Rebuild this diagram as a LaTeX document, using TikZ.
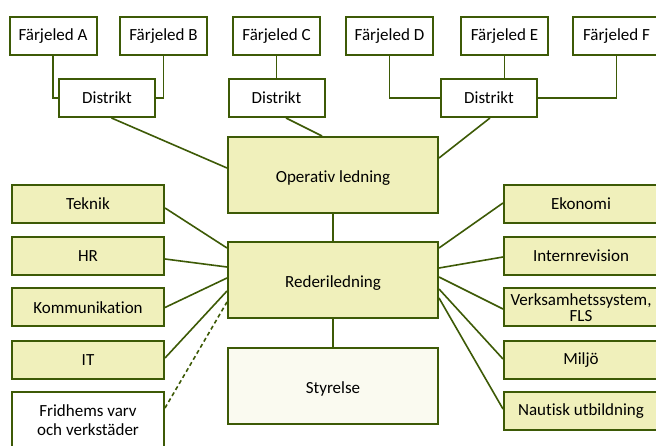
\documentclass[tikz,border=0pt]{standalone}
\usepackage{fontspec}
\setmainfont[Ligatures=NoCommon]{Carlito}
\usepackage{xcolor}
\usepackage{tikz}
\usetikzlibrary{calc}
\definecolor{orgline}{HTML}{3D5A06}
\definecolor{orgfill}{HTML}{F0F0BB}
\definecolor{orgpale}{HTML}{FAFAF0}
\tikzset{
  unitbox/.style={draw=orgline,line width=2pt,inner sep=0pt,align=center,
    font=\fontsize{17}{19.5}\selectfont},
  leafbox/.style={unitbox,fill=white,minimum width=87pt,minimum height=38pt},
  distbox/.style={unitbox,fill=white,minimum width=96pt,minimum height=38pt},
  mainbox/.style={unitbox,fill=orgfill,minimum width=210pt,minimum height=76pt,
    text height=15pt,text depth=0pt},
  sidebox/.style={unitbox,fill=orgfill,minimum width=152pt,minimum height=38pt},
  link/.style={draw=orgline,line width=1.6pt}
}

\begin{document}
\begin{tikzpicture}[x=1pt,y=-1pt]
\clip (0,0) rectangle (656,446);
\fill[white] (0,0) rectangle (656,446);

\node[leafbox] (fa) at (53,36) {Färjeled A};
\node[leafbox] (fb) at (163.5,36) {Färjeled B};
\node[leafbox] (fc) at (276.5,36) {Färjeled C};
\node[leafbox] (fd) at (389.5,36) {Färjeled D};
\node[leafbox] (fe) at (504.5,36) {Färjeled E};
\node[leafbox] (ff) at (616.5,36) {Färjeled F};

\node[distbox] (d1) at (107,98) {Distrikt};
\node[distbox] (d2) at (276.5,98) {Distrikt};
\node[distbox] (d3) at (489,98) {Distrikt};

\node[mainbox] (oper) at (333,175) {Operativ ledning};
\node[mainbox] (rederi) at (333,280) {Rederiledning};
\node[mainbox,fill=orgpale] (styr) at (333,386) {Styrelse};

\node[sidebox] (tek) at (88,204) {Teknik};
\node[sidebox] (hr) at (88,256) {HR};
\node[sidebox] (komm) at (88,307.5) {Kommunikation};
\node[sidebox] (it) at (88,360) {IT};
\node[sidebox,fill=white,minimum height=56pt] (varv) at (88,420) {Fridhems varv\\och verkstäder};

\node[sidebox,minimum width=154pt] (eko) at (581,204) {Ekonomi};
\node[sidebox,minimum width=154pt] (irev) at (581,256) {Internrevision};
\node[sidebox,minimum width=154pt,font=\fontsize{17}{16}\selectfont] (vsys) at (581,307.5) {Verksamhetssystem,\\FLS};
\node[sidebox,minimum width=154pt] (milj) at (581,360) {Miljö};
\node[sidebox,minimum width=154pt] (naut) at (581,411) {Nautisk utbildning};

% farjeleder till distrikt
\draw[link] (fa.south) |- (d1.west);
\draw[link] (fb.south) |- (d1.east);
\draw[link] (fc.south) -- (d2.north);
\draw[link] (fd.south) |- (d3.west);
\draw[link] (fe.south) -- (fe.south |- d3.north);
\draw[link] (ff.south) |- (d3.east);

% distrikt till operativ ledning
\draw[link] ([xshift=4.5pt]d1.south) -- ([yshift=7pt]oper.west);
\draw[link] ([xshift=9.5pt]d2.south) -- ([xshift=-11pt]oper.north);
\draw[link] ([xshift=1pt]d3.south) -- ([yshift=17pt]oper.east);

\draw[link] (oper.south) -- (rederi.north);
\draw[link] (rederi.south) -- (styr.north);

% staber vanster
\draw[link] ([yshift=-4pt]tek.east) -- ([yshift=32pt]rederi.west);
\draw[link] ([yshift=-3pt]hr.east) -- ([yshift=13pt]rederi.west);
\draw[link] (komm.east) -- ([yshift=2pt]rederi.west);
\draw[link] ([yshift=2pt]it.east) -- ([yshift=-11pt]rederi.west);
\draw[link,dash pattern=on 4pt off 3pt] ([yshift=12pt]varv.east) -- ([yshift=-22pt]rederi.west);

% staber hoger
\draw[link] ([yshift=32pt]rederi.east) -- ([yshift=1pt]eko.west);
\draw[link] ([yshift=12pt]rederi.east) -- ([yshift=-1pt]irev.west);
\draw[link] ([yshift=3pt]rederi.east) -- ([yshift=-1.5pt]vsys.west);
\draw[link] ([yshift=-9pt]rederi.east) -- ([yshift=1pt]milj.west);
\draw[link] ([yshift=-18pt]rederi.east) -- ([yshift=2pt]naut.west);
\end{tikzpicture}
\end{document}
